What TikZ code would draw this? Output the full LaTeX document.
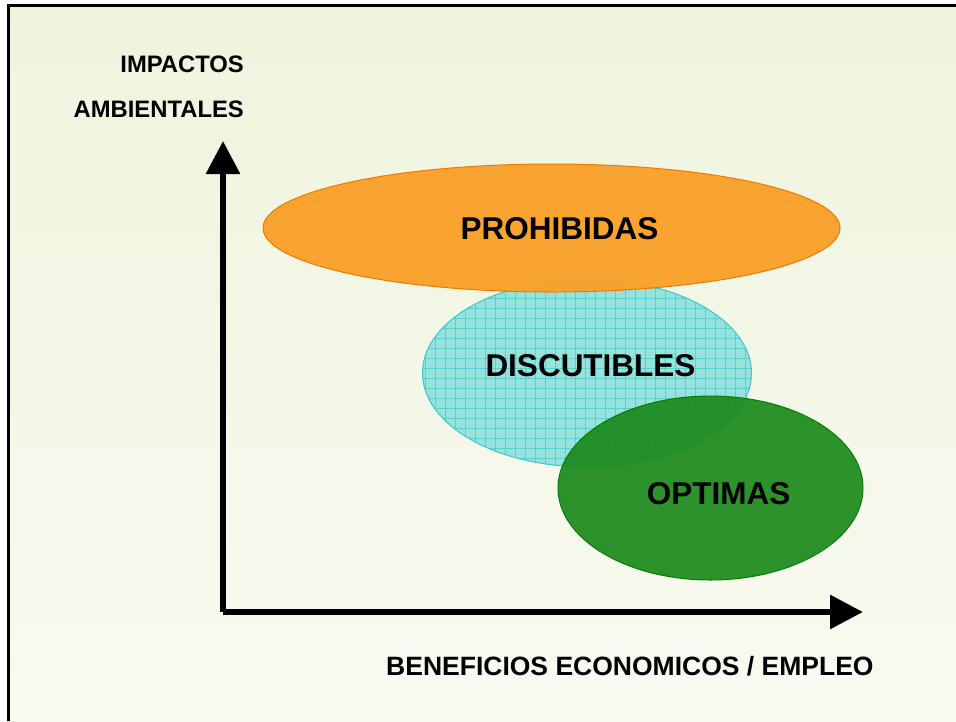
\documentclass[tikz,border=0pt]{standalone}
\usepackage{fontspec}
\setmainfont{Liberation Sans}
\usetikzlibrary{arrows.meta}
\definecolor{bgtop}{RGB}{238,244,220}
\definecolor{bgbot}{RGB}{249,250,242}
\definecolor{orfill}{RGB}{250,160,40}
\definecolor{oredge}{RGB}{240,120,0}
\definecolor{cyfill}{RGB}{150,226,220}
\definecolor{cygrid}{RGB}{70,200,200}
\definecolor{cyedge}{RGB}{60,200,205}
\definecolor{grfill}{RGB}{28,138,28}
\definecolor{gredge}{RGB}{0,128,0}
\tikzset{
  axisline/.style={line width=6pt, line cap=butt, -{Triangle[length=33pt,width=33pt]}},
  axislabel/.style={font=\fontsize{23.8pt}{26pt}\selectfont\bfseries, inner sep=0pt},
  xlabel/.style={font=\fontsize{26.5pt}{29pt}\selectfont\bfseries, inner sep=0pt},
  zonelabel/.style={font=\fontsize{31.5pt}{34pt}\selectfont\bfseries, inner sep=0pt},
  gridline/.style={cygrid, line width=0.6pt, opacity=0.7},
}
\begin{document}
\begin{tikzpicture}[x=1pt,y=-1pt]
\useasboundingbox (0,0) rectangle (956,721);
\fill[white] (0,0) rectangle (956,721);
\shade[top color=bgtop, bottom color=bgbot] (8,5) rectangle (956,721);
\draw[line width=3pt, line cap=butt] (8,721) -- (8,5) -- (956,5);
% cyan ellipse with grid
\fill[cyfill] (587,373) ellipse [x radius=164.5, y radius=94];
\begin{scope}
  \clip (587,373) ellipse [x radius=164.5, y radius=94];
  \foreach \gx in {425,435,...,755} {\draw[gridline] (\gx,275) -- (\gx,470);}
  \foreach \gy in {278,288,...,470} {\draw[gridline] (420,\gy) -- (755,\gy);}
\end{scope}
\draw[cyedge, line width=1pt] (587,373) ellipse [x radius=164.5, y radius=94];
% orange ellipse
\fill[orfill, opacity=0.95] (551.5,228) ellipse [x radius=288.5, y radius=64];
\draw[oredge, line width=1pt] (551.5,228) ellipse [x radius=288.5, y radius=64];
% green ellipse
\fill[grfill, opacity=0.92] (710.5,488) ellipse [x radius=152.5, y radius=92];
\draw[gredge, line width=1pt] (710.5,488) ellipse [x radius=152.5, y radius=92];
% zone labels
\node[zonelabel, anchor=base] (proh) at (559.5,239.5) {PROHIBIDAS};
\node[zonelabel, anchor=base] (disc) at (590.5,376.5) {DISCUTIBLES};
\node[zonelabel, anchor=base] (opti) at (718.5,504) {OPTIMAS};
% axes
\coordinate (o) at (223,612);
\coordinate (ytip) at (223,141);
\coordinate (xtip) at (863,612);
\draw[axisline] (o) -- (ytip);
\draw[axisline] (o) -- (xtip);
% axis labels
\node[axislabel, anchor=base east] (imp) at (244,72) {IMPACTOS};
\node[axislabel, anchor=base east] (amb) at (244,117) {AMBIENTALES};
\node[xlabel, anchor=base west] (ben) at (386,675) {BENEFICIOS ECONOMICOS / EMPLEO};
\end{tikzpicture}
\end{document}
